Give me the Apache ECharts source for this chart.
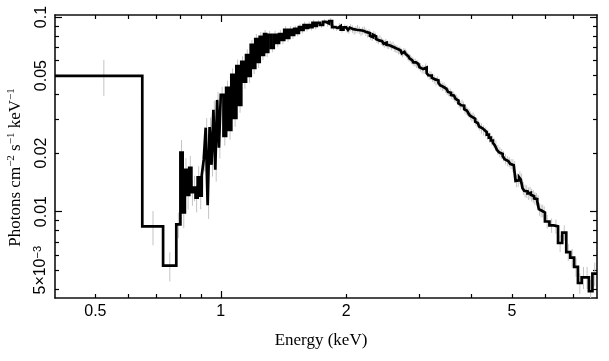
<!DOCTYPE html>
<html><head><meta charset="utf-8">
<script src="https://cdn.jsdelivr.net/npm/echarts@6/dist/echarts.min.js"></script>
<style>html,body{margin:0;padding:0;background:#fff}#c{width:609px;height:361px}</style>
</head><body><div id="c"></div>
<script>
// Bin edges (keV)
const binEdges = [0.40, 0.648, 0.727, 0.782,
  0.80, 0.81, 0.82, 0.83, 0.84, 0.85, 0.86, 0.87, 0.88, 0.89, 0.90, 0.91, 0.92, 0.93, 0.94, 0.95, 0.96, 0.97, 0.98, 0.99,
  1.00, 1.015, 1.03, 1.045, 1.06, 1.075, 1.09, 1.105, 1.12, 1.135, 1.15, 1.165, 1.18, 1.195, 1.21, 1.225, 1.24, 1.255, 1.27, 1.285,
  1.30, 1.32, 1.34, 1.36, 1.38, 1.40, 1.42, 1.44, 1.46, 1.48, 1.50, 1.52, 1.54, 1.56, 1.58, 1.60, 1.62, 1.64, 1.66, 1.68,
  1.70, 1.73, 1.76, 1.79, 1.82, 1.85, 1.88, 1.91, 1.94, 1.97,
  2.00, 2.02, 2.04, 2.06, 2.08, 2.10, 2.12, 2.14, 2.16, 2.18, 2.20, 2.22, 2.24, 2.26, 2.28, 2.30, 2.32, 2.34, 2.36, 2.38,
  2.40, 2.42, 2.44, 2.46, 2.48, 2.50, 2.52, 2.54, 2.56, 2.58, 2.60, 2.62, 2.64, 2.66, 2.68, 2.70, 2.72, 2.74, 2.76, 2.78,
  2.80, 2.82, 2.84, 2.86, 2.88, 2.90, 2.92, 2.94, 2.96, 2.98,
  3.00, 3.03, 3.06, 3.09, 3.12, 3.15, 3.18, 3.21, 3.24, 3.27, 3.30, 3.33, 3.36, 3.39, 3.42, 3.45, 3.48, 3.51, 3.54, 3.57,
  3.60, 3.63, 3.66, 3.69, 3.72, 3.75, 3.78, 3.81, 3.84, 3.87, 3.90, 3.93, 3.96, 3.99, 4.02, 4.05, 4.08, 4.11, 4.14, 4.17,
  4.20, 4.25, 4.30, 4.35, 4.40, 4.45, 4.50, 4.55, 4.60, 4.65, 4.70, 4.75, 4.80, 4.85, 4.90, 4.95, 5.00, 5.05, 5.10, 5.15,
  5.20, 5.25, 5.30, 5.35, 5.40, 5.45, 5.50, 5.55, 5.60, 5.65, 5.70, 5.75, 5.80, 5.85, 5.90, 5.95,
  6.00, 6.15, 6.30, 6.45, 6.60, 6.75, 6.90, 7.05, 7.20, 7.35, 7.50, 7.65, 7.80, 8.00];

// Photons cm^-2 s^-1 keV^-1 per bin
const fluxValues = [0.0498, 0.0084, 0.00528, 0.0086,
  0.0201, 0.0099, 0.0164, 0.0122, 0.0168, 0.0126, 0.0133, 0.0118, 0.0150, 0.0121, 0.0153, 0.0185, 0.0270, 0.0108, 0.0272, 0.0174, 0.0334, 0.0164, 0.0375, 0.0213,
  0.0398, 0.0245, 0.0432, 0.0263, 0.0504, 0.0303, 0.0560, 0.0354, 0.0588, 0.0465, 0.0638, 0.0498, 0.0719, 0.0548, 0.0771, 0.0588, 0.0790, 0.0638, 0.0818, 0.0661,
  0.0809, 0.0693, 0.0809, 0.0736, 0.0818, 0.0762, 0.0858, 0.0780, 0.0858, 0.0809, 0.0868, 0.0828, 0.0888, 0.0858, 0.0910, 0.0878, 0.0910, 0.0888, 0.0932, 0.0899,
  0.0932, 0.0910, 0.0943, 0.0925, 0.0954, 0.0888, 0.0878, 0.0899, 0.0862, 0.0885,
  0.0870, 0.0858, 0.0882, 0.0866, 0.0848, 0.0860, 0.0872, 0.0855, 0.0838, 0.0850, 0.0856, 0.0836, 0.0820, 0.0828, 0.0800, 0.0788, 0.0810, 0.0795, 0.0770, 0.0758,
  0.0772, 0.0752, 0.0740, 0.0728, 0.0738, 0.0720, 0.0716, 0.0722, 0.0706, 0.0715, 0.0695, 0.0688, 0.0684, 0.0672, 0.0675, 0.0660, 0.0650, 0.0662, 0.0658, 0.0645,
  0.0630, 0.0618, 0.0612, 0.0600, 0.0596, 0.0584, 0.0585, 0.0572, 0.0574, 0.0562,
  0.0552, 0.0540, 0.0536, 0.0550, 0.0515, 0.0502, 0.0500, 0.0488, 0.0478, 0.0468, 0.0472, 0.0460, 0.0446, 0.0438, 0.0440, 0.0428, 0.0418, 0.0412, 0.0408, 0.0398,
  0.0394, 0.0386, 0.0380, 0.0372, 0.0360, 0.0352, 0.0358, 0.0350, 0.0336, 0.0330, 0.0326, 0.0320, 0.0312, 0.0306, 0.0308, 0.0300, 0.0290, 0.0285, 0.0280, 0.0274,
  0.0268, 0.0262, 0.0256, 0.0249, 0.0240, 0.0232, 0.0226, 0.0219, 0.0208, 0.0202, 0.0198, 0.0193, 0.0186, 0.0182, 0.0180, 0.0176, 0.0173, 0.0169, 0.0144, 0.0145,
  0.0150, 0.0146, 0.0132, 0.0128, 0.0127, 0.0124, 0.0125, 0.0122, 0.0120, 0.0117, 0.0116, 0.0113, 0.0103, 0.0101, 0.0101, 0.0099,
  0.0089, 0.0085, 0.0084, 0.0069, 0.0078, 0.0062, 0.0058, 0.0052, 0.0043, 0.0046, 0.0046, 0.0039, 0.0048];

// Relative 1-sigma errors per bin
const relErrors = [0.21, 0.20, 0.17, 0.15,
  0.16, 0.17, 0.15, 0.16, 0.15, 0.15, 0.15, 0.16, 0.14, 0.15, 0.14, 0.13, 0.12, 0.15, 0.12, 0.13, 0.11, 0.13, 0.10, 0.12,
  0.10, 0.11, 0.09, 0.11, 0.08, 0.10, 0.08, 0.09, 0.07, 0.08, 0.07, 0.08, 0.06, 0.07, 0.06, 0.07, 0.06, 0.06, 0.05, 0.06,
  0.05, 0.05, 0.05, 0.05, 0.05, 0.05, 0.045, 0.045, 0.045, 0.045, 0.04, 0.04, 0.04, 0.04, 0.04, 0.04, 0.04, 0.04, 0.04, 0.04,
  0.035, 0.035, 0.035, 0.035, 0.035, 0.035, 0.035, 0.035, 0.035, 0.035,
  0.045, 0.045, 0.045, 0.045, 0.045, 0.045, 0.045, 0.045, 0.045, 0.045, 0.045, 0.045, 0.045, 0.045, 0.045, 0.045, 0.045, 0.045, 0.045, 0.045,
  0.045, 0.045, 0.045, 0.045, 0.045, 0.045, 0.045, 0.045, 0.045, 0.045, 0.045, 0.045, 0.045, 0.045, 0.045, 0.045, 0.045, 0.045, 0.045, 0.045,
  0.045, 0.045, 0.045, 0.045, 0.045, 0.045, 0.045, 0.045, 0.045, 0.045,
  0.05, 0.05, 0.05, 0.05, 0.05, 0.05, 0.05, 0.05, 0.05, 0.05, 0.05, 0.05, 0.05, 0.05, 0.05, 0.05, 0.05, 0.05, 0.05, 0.05,
  0.05, 0.05, 0.05, 0.05, 0.05, 0.05, 0.05, 0.05, 0.05, 0.05, 0.05, 0.05, 0.05, 0.05, 0.05, 0.05, 0.05, 0.05, 0.05, 0.05,
  0.06, 0.06, 0.06, 0.06, 0.06, 0.06, 0.06, 0.06, 0.06, 0.06, 0.06, 0.06, 0.06, 0.06, 0.06, 0.06, 0.075, 0.075, 0.075, 0.075,
  0.075, 0.075, 0.075, 0.075, 0.075, 0.075, 0.075, 0.075, 0.075, 0.075, 0.075, 0.075, 0.075, 0.075, 0.075, 0.075,
  0.08, 0.085, 0.085, 0.10, 0.09, 0.10, 0.11, 0.11, 0.12, 0.13, 0.13, 0.14, 0.14];

const xTickLabels = [0.5, 1, 2, 5];
const yTickLabels = [0.005, 0.01, 0.02, 0.05, 0.1];
const xMinorTicks = [0.5, 0.6, 0.7, 0.8, 0.9, 2, 3, 4, 5, 6, 7];
const xMajorTicks = [1];
const yMinorTicks = [0.004, 0.005, 0.006, 0.007, 0.008, 0.009, 0.02, 0.03, 0.04, 0.05, 0.06, 0.07, 0.08, 0.09];
const yMajorTicks = [0.01, 0.1];

const X_MIN = 0.4, X_MAX = 8, Y_MIN = 0.0036, Y_MAX = 0.1024;

const stepData = [];
const errData = [];
for (let i = 0; i < fluxValues.length; i++) {
  const lo = binEdges[i], hi = binEdges[i + 1], v = fluxValues[i];
  stepData.push([lo, v], [hi, v]);
  const c = (lo + hi) / 2, e = v * relErrors[i];
  errData.push([c, Math.max(v - e, Y_MIN), Math.min(v + e, Y_MAX)]);
}

const SANS = 'Liberation Sans';
const SERIF = 'Liberation Serif';
const tickStyle = { color: '#000', width: 1.2 };

function xAx(grid, pos, ticks, len, main) {
  return {
    type: 'log', logBase: 10, min: X_MIN, max: X_MAX, gridIndex: grid, position: pos,
    axisLine: { show: main, lineStyle: { color: '#111', width: 1.6 } },
    axisTick: { show: true, inside: true, length: len, customValues: ticks, lineStyle: tickStyle },
    axisLabel: (main && pos === 'bottom') ? {
      show: true, customValues: xTickLabels, margin: 6, color: '#000', fontFamily: SANS, fontSize: 16,
      formatter: v => String(+v.toPrecision(3))
    } : { show: false },
    splitLine: { show: false }, minorTick: { show: false },
    name: (main && pos === 'bottom') ? 'Energy (keV)' : '',
    nameLocation: 'middle', nameGap: 34,
    nameTextStyle: { fontFamily: SERIF, fontSize: 17, color: '#000', padding: [0, 10, 0, 0] }
  };
}
function yAx(grid, pos, ticks, len, main) {
  return {
    type: 'log', logBase: 10, min: Y_MIN, max: Y_MAX, gridIndex: grid, position: pos,
    axisLine: { show: main, lineStyle: { color: '#111', width: 1.6 } },
    axisTick: { show: true, inside: true, length: len, customValues: ticks, lineStyle: tickStyle },
    axisLabel: (main && pos === 'left') ? {
      show: true, customValues: yTickLabels, margin: 5, rotate: 90, color: '#000', fontFamily: SANS, fontSize: 16,
      formatter: v => (Math.abs(v - 0.005) < 1e-7) ? '{n|5×10}{s|−3}' : String(+v.toPrecision(3)),
      rich: {
        n: { fontFamily: SANS, fontSize: 16, color: '#000', lineHeight: 18 },
        s: { fontFamily: SANS, fontSize: 11, color: '#000', verticalAlign: 'top', lineHeight: 18 }
      }
    } : { show: false },
    splitLine: { show: false }, minorTick: { show: false },
    name: (main && pos === 'left') ? '{t|Photons cm}{s|−2}{t| s}{s|−1}{t| keV}{s|−1}' : '',
    nameLocation: 'middle', nameGap: 28, nameRotate: 90,
    nameTextStyle: {
      color: '#000', padding: [0, 22, 0, 0],
      rich: {
        t: { fontFamily: SERIF, fontSize: 17, color: '#000', lineHeight: 20 },
        s: { fontFamily: SERIF, fontSize: 11, color: '#000', verticalAlign: 'top', lineHeight: 20 }
      }
    }
  };
}

const gridBox = { left: 55, right: 12, top: 15, bottom: 63, containLabel: false, outerBoundsMode: 'none' };
const chart = echarts.init(document.getElementById('c'), null, { renderer: 'canvas' });
chart.setOption({
  animation: false,
  backgroundColor: '#fff',
  grid: [Object.assign({}, gridBox), Object.assign({}, gridBox)],
  xAxis: [
    xAx(0, 'bottom', xMinorTicks, 4, true),
    xAx(0, 'top', xMinorTicks, 4, true),
    xAx(1, 'bottom', xMajorTicks, 7, false),
    xAx(1, 'top', xMajorTicks, 7, false)
  ],
  yAxis: [
    yAx(0, 'left', yMinorTicks, 4, true),
    yAx(0, 'right', yMinorTicks, 4, true),
    yAx(1, 'left', yMajorTicks, 7, false),
    yAx(1, 'right', yMajorTicks, 7, false)
  ],
  series: [
    {
      type: 'custom', xAxisIndex: 0, yAxisIndex: 0, z: 2,
      data: errData, encode: { x: 0, y: [1, 2] },
      renderItem: (params, api) => {
        const p1 = api.coord([api.value(0), api.value(1)]);
        const p2 = api.coord([api.value(0), api.value(2)]);
        return { type: 'line', shape: { x1: p1[0], y1: p1[1], x2: p2[0], y2: p2[1] },
                 style: { stroke: '#c4c4c4', lineWidth: 1 } };
      }
    },
    {
      type: 'line', xAxisIndex: 0, yAxisIndex: 0, z: 3,
      data: stepData, showSymbol: false, symbol: 'none',
      lineStyle: { color: '#000', width: 2.7, join: 'miter' }
    }
  ]
});
</script>
</body></html>
